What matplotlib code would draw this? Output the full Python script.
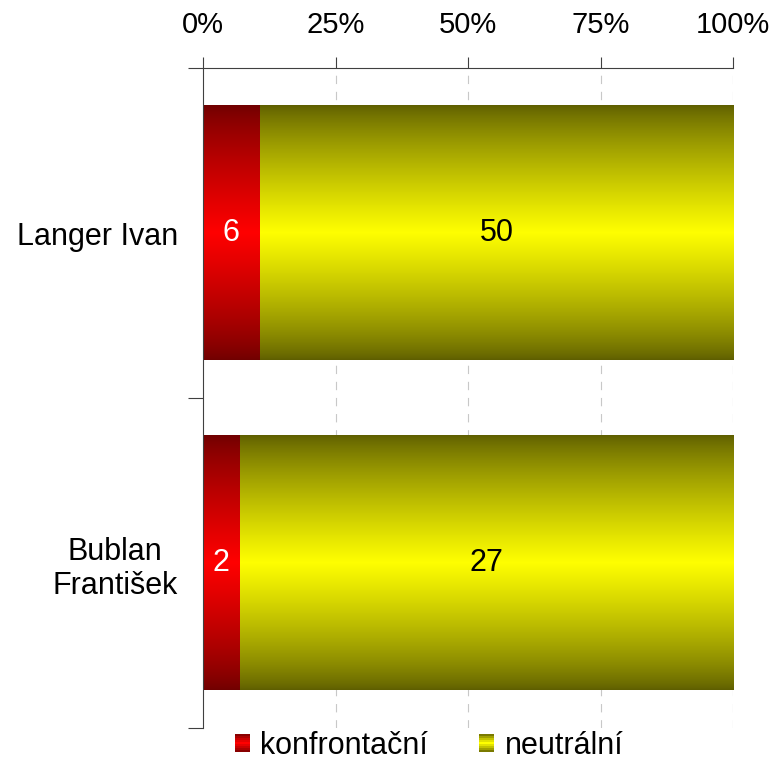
import matplotlib
matplotlib.use('Agg')
import matplotlib.pyplot as plt
import numpy as np
from matplotlib.patches import Rectangle
from matplotlib.legend_handler import HandlerBase

plt.rcParams['font.family'] = ['Liberation Sans', 'DejaVu Sans']

# data, bottom category first
people = ['Bublan\nFrantišek', 'Langer Ivan']
konfrontacni = [2, 6]
neutralni = [27, 50]
series_names = ['konfrontační', 'neutrální']
tick_labels = ['0%', '25%', '50%', '75%', '100%']

red_dark, red_bright = (0.44, 0.0, 0.0), (1.0, 0.0, 0.0)
ol_dark, ol_bright = (0.37, 0.37, 0.0), (1.0, 1.0, 0.0)
FS = 22


def shade(t):
    # dark at both edges, full colour in the middle
    return (1 - np.abs(2 * np.asarray(t) - 1)) ** 0.8


def gradient_image(dark, bright, n=256):
    t = np.linspace(0, 1, n)
    prof = shade(t)
    dark = np.array(dark)
    bright = np.array(bright)
    img = dark[None, :] + (bright - dark)[None, :] * prof[:, None]
    return img[:, None, :]


def grad_bar(ax, left, width, y, height, dark, bright):
    ax.imshow(gradient_image(dark, bright), extent=(left, left + width, y - height / 2, y + height / 2),
              aspect='auto', origin='lower', interpolation='bilinear', zorder=2)


class GradientHandler(HandlerBase):
    def __init__(self, dark, bright):
        super().__init__()
        self.dark = np.array(dark)
        self.bright = np.array(bright)

    def create_artists(self, legend, orig_handle, xdescent, ydescent, width, height, fontsize, trans):
        n = 9
        out = []
        for i in range(n):
            c = self.dark + (self.bright - self.dark) * shade((i + 0.5) / n)
            r = Rectangle((-xdescent, -ydescent + height * i / n), width, height / n + 0.3,
                          facecolor=c, edgecolor='none', transform=trans)
            out.append(r)
        return out


fig = plt.figure(figsize=(7.76, 7.62), dpi=100)
ax = fig.add_axes([203 / 776, 34 / 762, 530 / 776, 660 / 762])

totals = np.array(konfrontacni) + np.array(neutralni)
k_share = np.array(konfrontacni) / totals * 100
n_share = np.array(neutralni) / totals * 100
bar_h = 0.77

for i in range(len(people)):
    grad_bar(ax, 0, k_share[i], i, bar_h, red_dark, red_bright)
    grad_bar(ax, k_share[i], n_share[i], i, bar_h, ol_dark, ol_bright)
    ax.text(k_share[i] / 2, i, str(konfrontacni[i]), ha='center', va='center',
            color='white', fontsize=FS, zorder=3)
    ax.text(k_share[i] + n_share[i] / 2, i, str(neutralni[i]), ha='center', va='center',
            color='black', fontsize=FS, zorder=3)

ax.set_xlim(0, 100)
ax.set_ylim(-0.5, len(people) - 0.5)

ax.xaxis.tick_top()
ax.set_xticks([0, 25, 50, 75, 100])
ax.set_xticklabels(tick_labels, fontsize=21)
ax.tick_params(axis='x', direction='out', length=8, pad=13, width=0.8, color='#404040')
for x in [25, 50, 75, 100]:
    ax.axvline(x, color='#c8c8c8', lw=0.8, linestyle=(0, (7.5, 7)), zorder=1)

ax.set_yticks([-0.5, 0.5, 1.5])
ax.set_yticklabels([])
ax.set_yticks(range(len(people)), minor=True)
ax.set_yticklabels(people, minor=True, fontsize=FS, ha='right', multialignment='center')
ax.tick_params(axis='y', which='major', direction='out', length=11, width=0.8, color='#404040')
ax.tick_params(axis='y', which='minor', length=0, pad=18)

for s in ['right', 'bottom']:
    ax.spines[s].set_visible(False)
for s in ['top', 'left']:
    ax.spines[s].set_color('#404040')
    ax.spines[s].set_linewidth(0.8)

handles = [Rectangle((0, 0), 1, 1), Rectangle((0, 1), 1, 1)]
fig.legend(handles, series_names, loc='center', bbox_to_anchor=(429 / 776, 1 - 746 / 762),
           ncol=2, frameon=False, fontsize=FS, handlelength=0.5, handleheight=0.5,
           handletextpad=0.35, columnspacing=1.65, borderpad=0.05,
           handler_map={handles[0]: GradientHandler(red_dark, red_bright),
                        handles[1]: GradientHandler(ol_dark, ol_bright)})

fig.savefig('out.png', dpi=100)
